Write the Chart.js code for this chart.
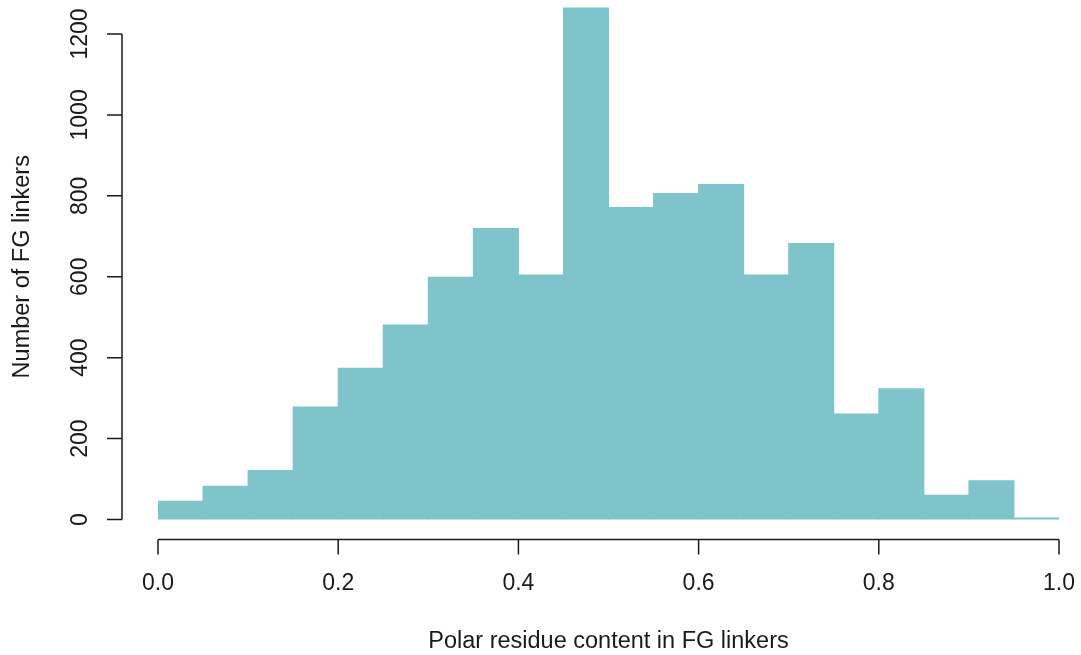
<!DOCTYPE html>
<html>
<head>
<meta charset="utf-8">
<script src="https://cdn.jsdelivr.net/npm/chart.js@4/dist/chart.umd.min.js"></script>
<style>
  html, body { margin: 0; padding: 0; background: #ffffff; }
  #wrap { width: 1081px; height: 655px; position: relative; }
</style>
</head>
<body>
<div id="wrap"><canvas id="c" width="1081" height="655"></canvas></div>
<script>
// Histogram bins (left edges) and counts
const binStarts = [0.00, 0.05, 0.10, 0.15, 0.20, 0.25, 0.30, 0.35, 0.40, 0.45,
                   0.50, 0.55, 0.60, 0.65, 0.70, 0.75, 0.80, 0.85, 0.90, 0.95];
const binWidth = 0.05;
const counts = [45, 82, 121, 278, 374, 481, 599, 719, 604, 1264,
                771, 806, 828, 604, 682, 261, 323, 60, 96, 4];
const xTicks = [0.0, 0.2, 0.4, 0.6, 0.8, 1.0];
const xTickLabels = ["0.0", "0.2", "0.4", "0.6", "0.8", "1.0"];
const yTicks = [0, 200, 400, 600, 800, 1000, 1200];
const yTickLabels = ["0", "200", "400", "600", "800", "1000", "1200"];
const xTitle = "Polar residue content in FG linkers";
const yTitle = "Number of FG linkers";

const barColor = "rgb(126,196,202)";
const axisColor = "#1a1a1a";
const fontFamily = "'Liberation Sans', Arial, Helvetica, sans-serif";

const points = binStarts.map((s, i) => ({ x: s + binWidth / 2, y: counts[i] }));

const rAxes = {
  id: 'rAxes',
  afterDraw(chart) {
    const ctx = chart.ctx;
    const xs = chart.scales.x, ys = chart.scales.y;
    ctx.save();
    ctx.strokeStyle = axisColor;
    ctx.fillStyle = axisColor;
    ctx.lineWidth = 1.5;
    ctx.lineCap = 'butt';

    // Y axis (R style, offset left)
    const yAxisX = xs.getPixelForValue(0) - 36;
    const y0 = ys.getPixelForValue(yTicks[0]);
    const y1 = ys.getPixelForValue(yTicks[yTicks.length - 1]);
    ctx.beginPath();
    ctx.moveTo(yAxisX, y0); ctx.lineTo(yAxisX, y1);
    yTicks.forEach(v => {
      const p = ys.getPixelForValue(v);
      ctx.moveTo(yAxisX, p); ctx.lineTo(yAxisX - 15, p);
    });
    ctx.stroke();

    ctx.font = "23px " + fontFamily;
    ctx.textAlign = 'center';
    ctx.textBaseline = 'middle';
    yTicks.forEach((v, i) => {
      const p = ys.getPixelForValue(v);
      ctx.save();
      ctx.translate(yAxisX - 42, p);
      ctx.rotate(-Math.PI / 2);
      ctx.fillText(yTickLabels[i], 0, 1);
      ctx.restore();
    });

    // X axis (R style, offset below)
    const xAxisY = ys.getPixelForValue(0) + 20;
    const xa = xs.getPixelForValue(xTicks[0]);
    const xb = xs.getPixelForValue(xTicks[xTicks.length - 1]);
    ctx.beginPath();
    ctx.moveTo(xa, xAxisY); ctx.lineTo(xb, xAxisY);
    xTicks.forEach(v => {
      const p = xs.getPixelForValue(v);
      ctx.moveTo(p, xAxisY); ctx.lineTo(p, xAxisY + 15);
    });
    ctx.stroke();

    xTicks.forEach((v, i) => {
      const p = xs.getPixelForValue(v);
      ctx.fillText(xTickLabels[i], p, xAxisY + 44);
    });

    // Titles
    ctx.font = "23.5px " + fontFamily;
    ctx.fillText(xTitle, (xa + xb) / 2, xAxisY + 102);
    ctx.save();
    ctx.translate(23, (chart.chartArea.top + y0) / 2 + 7);
    ctx.rotate(-Math.PI / 2);
    ctx.fillText(yTitle, 0, 0);
    ctx.restore();

    ctx.restore();
  }
};

new Chart(document.getElementById('c'), {
  type: 'bar',
  data: {
    datasets: [{
      data: points,
      backgroundColor: barColor,
      borderWidth: 0,
      barPercentage: 1.0,
      categoryPercentage: 1.0,
      inflateAmount: 0.5
    }]
  },
  options: {
    responsive: false,
    animation: false,
    devicePixelRatio: 1,
    layout: { padding: { left: 158, right: 22, top: 0, bottom: 135.5 } },
    plugins: { legend: { display: false }, tooltip: { enabled: false } },
    scales: {
      x: { type: 'linear', min: 0, max: 1, offset: false, display: false },
      y: { type: 'linear', min: 0, max: 1284, display: false }
    }
  },
  plugins: [rAxes]
});
</script>
</body>
</html>
